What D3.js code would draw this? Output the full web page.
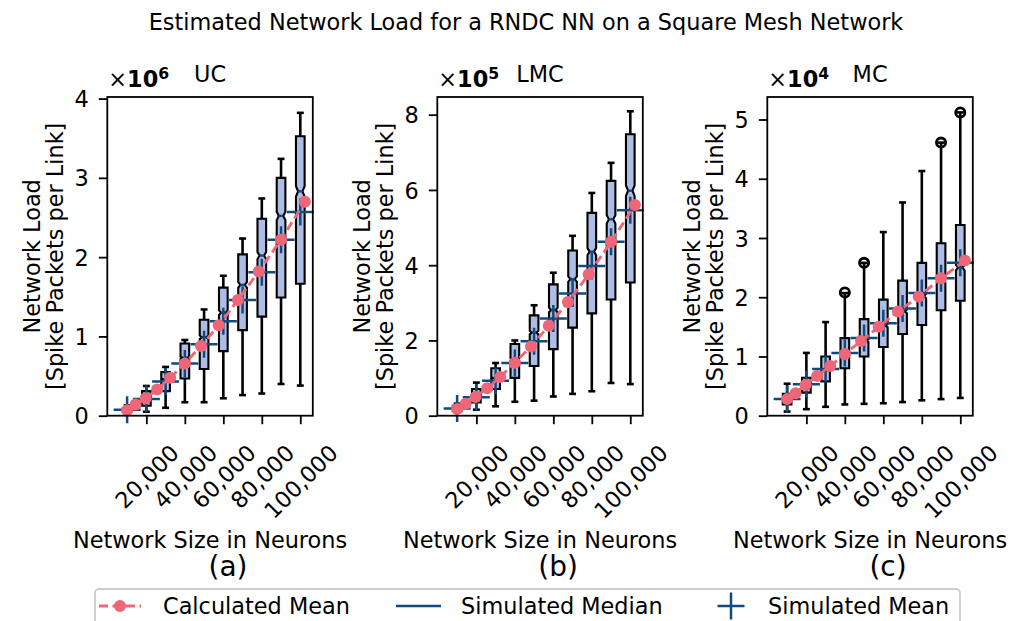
<!DOCTYPE html>
<html><head><meta charset="utf-8">
<script src="https://cdn.jsdelivr.net/npm/d3@7"></script>
<style>
body{margin:0;background:#fff}
svg{display:block}
text{font-family:"DejaVu Sans",sans-serif;fill:#000}
</style>
</head><body>
<svg id="chart" width="1020" height="621"></svg>
<script>
// ---------- data ----------
const calcSizes = [10000,14400,19600,25600,32400,40000,48400,57600,67600,78400,90000,102400];
const simSizes  = [10000,20000,30000,40000,50000,60000,70000,80000,90000,100000];
const xTickValues = [20000,40000,60000,80000,100000];

// UC (x1e6)
const ucCalcMean = [0.07,0.14,0.22,0.33,0.48,0.66,0.88,1.14,1.46,1.82,2.22,2.70];
const ucSimMean  = [0.075,0.21,0.43,0.66,0.90,1.19,1.46,1.81,2.22,2.57];
const ucMedian   = [0.075,0.22,0.46,0.73,0.99,1.30,1.65,2.02,2.52,2.83];
const ucQ1       = [0.055,0.125,0.31,0.47,0.59,0.815,1.08,1.25,1.49,1.665];
const ucQ3       = [0.095,0.31,0.55,0.91,1.21,1.615,2.035,2.485,3.0,3.525];
const ucWhisLo   = [0.03,0.05,0.10,0.17,0.17,0.22,0.26,0.28,0.40,0.38];
const ucWhisHi   = [0.13,0.375,0.615,0.955,1.34,1.765,2.235,2.74,3.24,3.82];
const ucFliers   = [[],[],[],[],[],[],[],[],[],[]];
const ucTicks    = [0,1,2,3,4];

// LMC (x1e5)
const lmcCalcMean = [0.18,0.32,0.50,0.73,1.03,1.41,1.84,2.39,3.02,3.76,4.62,5.60];
const lmcSimMean  = [0.19,0.49,0.93,1.40,1.98,2.58,3.25,3.98,4.62,5.46];
const lmcMedian   = [0.19,0.52,1.00,1.50,2.21,2.81,3.63,4.36,5.22,5.98];
const lmcQ1       = [0.12,0.35,0.71,1.005,1.32,1.77,2.34,2.72,3.09,3.54];
const lmcQ3       = [0.26,0.71,1.26,1.905,2.665,3.49,4.39,5.39,6.24,7.48];
const lmcWhisLo   = [0.08,0.16,0.25,0.37,0.40,0.51,0.58,0.65,0.87,0.84];
const lmcWhisHi   = [0.32,0.88,1.40,2.00,2.935,3.80,4.78,5.92,6.72,8.09];
const lmcFliers   = [[],[],[],[],[],[],[],[],[],[]];
const lmcTicks    = [0,2,4,6,8];

// MC (x1e4)
const mcCalcMean = [0.28,0.38,0.52,0.67,0.84,1.04,1.26,1.50,1.76,2.01,2.32,2.62];
const mcSimMean  = [0.28,0.53,0.79,1.06,1.31,1.56,1.81,2.07,2.32,2.58];
const mcMedian   = [0.27,0.51,0.77,1.03,1.27,1.52,1.76,2.02,2.28,2.50];
const mcQ1       = [0.19,0.39,0.58,0.80,1.00,1.16,1.38,1.53,1.78,1.94];
const mcQ3       = [0.37,0.64,1.00,1.31,1.63,1.96,2.28,2.58,2.91,3.22];
const mcWhisLo   = [0.07,0.11,0.15,0.19,0.20,0.21,0.23,0.26,0.28,0.30];
const mcWhisHi   = [0.54,1.06,1.58,2.07,2.58,3.10,3.60,4.13,4.61,5.12];
const mcFliers   = [[],[],[],[2.08],[2.58],[],[],[],[4.61],[5.12]];
const mcTicks    = [0,1,2,3,4,5];

const panelTitles   = ["UC","LMC","MC"];
const panelExps     = ["6","5","4"];
const panelCaptions = ["(a)","(b)","(c)"];
const panelYMax     = [4.02,8.47,5.38];

const legendLabels = ["Calculated Mean","Simulated Median","Simulated Mean"];
const suptitle = "Estimated Network Load for a RNDC NN on a Square Mesh Network";
const xLabel = "Network Size in Neurons";
const yLabelLines = ["Network Load","[Spike Packets per Link]"];

// ---------- style ----------
const RED = "#ee6677", DARK = "#134a7c", FILL = "#aebde6";
const FS = 22.4;
const lefts = [107.3, 437.3, 767.3];
const W = 205.5, TOP = 97, BOTTOM = 415.7;
const boxWidth = 4500, capWidth = 3600, notchN = 2000;

const svg = d3.select("#chart");

svg.append("text").attr("x",526).attr("y",30).attr("text-anchor","middle")
  .style("font-size",FS+"px").text(suptitle);

const panels = [
  {calc:ucCalcMean, mean:ucSimMean, med:ucMedian, q1:ucQ1, q3:ucQ3, lo:ucWhisLo, hi:ucWhisHi, fl:ucFliers, ticks:ucTicks},
  {calc:lmcCalcMean, mean:lmcSimMean, med:lmcMedian, q1:lmcQ1, q3:lmcQ3, lo:lmcWhisLo, hi:lmcWhisHi, fl:lmcFliers, ticks:lmcTicks},
  {calc:mcCalcMean, mean:mcSimMean, med:mcMedian, q1:mcQ1, q3:mcQ3, lo:mcWhisLo, hi:mcWhisHi, fl:mcFliers, ticks:mcTicks}
];

function plusPath(cx, cy, s){
  const h = s/2;
  return `M${cx-h},${cy}L${cx+h},${cy}M${cx},${cy-h}L${cx},${cy+h}`;
}

panels.forEach((p, i) => {
  const L = lefts[i];
  const x = d3.scaleLinear().domain([-300,106500]).range([L, L+W]);
  const y = d3.scaleLinear().domain([0, panelYMax[i]]).range([BOTTOM, TOP]);
  const g = svg.append("g");

  // boxes
  const bg = g.append("g");
  simSizes.forEach((s, k) => {
    const xl = x(s - boxWidth/2), xr = x(s + boxWidth/2);
    const nl = x(s - boxWidth/4), nr = x(s + boxWidth/4);
    const cl = x(s - capWidth/2), cr = x(s + capWidth/2);
    const q1 = p.q1[k], q3 = p.q3[k], md = p.med[k];
    const nh = 1.57*(q3-q1)/Math.sqrt(notchN);
    bg.append("line").attr("x1",x(s)).attr("x2",x(s)).attr("y1",y(q1)).attr("y2",y(p.lo[k]))
      .attr("stroke","#000").attr("stroke-width",2.6);
    bg.append("line").attr("x1",x(s)).attr("x2",x(s)).attr("y1",y(q3)).attr("y2",y(p.hi[k]))
      .attr("stroke","#000").attr("stroke-width",2.6);
    [p.lo[k], p.hi[k]].forEach(v => {
      bg.append("line").attr("x1",cl).attr("x2",cr).attr("y1",y(v)).attr("y2",y(v))
        .attr("stroke","#000").attr("stroke-width",2.6);
    });
    const path = d3.path();
    path.moveTo(xl, y(q1)); path.lineTo(xr, y(q1)); path.lineTo(xr, y(md-nh));
    path.lineTo(nr, y(md)); path.lineTo(xr, y(md+nh)); path.lineTo(xr, y(q3));
    path.lineTo(xl, y(q3)); path.lineTo(xl, y(md+nh)); path.lineTo(nl, y(md));
    path.lineTo(xl, y(md-nh)); path.closePath();
    bg.append("path").attr("d", path.toString()).attr("fill",FILL)
      .attr("stroke","#000").attr("stroke-width",2.1).attr("stroke-linejoin","miter");
    bg.append("line").attr("x1",nl).attr("x2",nr).attr("y1",y(md)).attr("y2",y(md))
      .attr("stroke",DARK).attr("stroke-width",2.4);
    p.fl[k].forEach(v => {
      bg.append("circle").attr("cx",x(s)).attr("cy",y(v)).attr("r",4.6)
        .attr("fill","none").attr("stroke","#000").attr("stroke-width",2.8);
    });
  });

  // simulated mean "+"
  g.append("g").selectAll("path").data(simSizes).join("path")
    .attr("d",(s,k)=>plusPath(x(s), y(p.mean[k]), 27))
    .attr("stroke",DARK).attr("stroke-width",2.5).attr("fill","none");

  // calculated mean line
  const line = d3.line().x((d,k)=>x(calcSizes[k])).y(d=>y(d));
  g.append("path").attr("d", line(p.calc)).attr("fill","none").attr("stroke",RED)
    .attr("stroke-width",2.9).attr("stroke-dasharray","9,4.5");
  g.append("g").selectAll("circle").data(p.calc).join("circle")
    .attr("cx",(d,k)=>x(calcSizes[k])).attr("cy",d=>y(d)).attr("r",6).attr("fill",RED);

  // frame
  g.append("rect").attr("x",L).attr("y",TOP).attr("width",W).attr("height",BOTTOM-TOP)
    .attr("fill","none").attr("stroke","#000").attr("stroke-width",1.8);

  // y axis
  const ya = g.append("g").attr("transform",`translate(${L},0)`)
    .call(d3.axisLeft(y).tickValues(p.ticks).tickFormat(d3.format("d")).tickSize(8.5).tickPadding(10));
  ya.select(".domain").remove();
  ya.selectAll("line").attr("stroke","#000").attr("stroke-width",1.8);
  ya.selectAll("text").style("font-size",FS+"px").style("font-family","DejaVu Sans").attr("dy","0.36em");

  // x axis
  const xa = g.append("g").attr("transform",`translate(0,${BOTTOM})`)
    .call(d3.axisBottom(x).tickValues(xTickValues).tickFormat(d3.format(",")).tickSize(8.5));
  xa.select(".domain").remove();
  xa.selectAll("line").attr("stroke","#000").attr("stroke-width",1.8);
  xa.selectAll("text").style("font-size",FS+"px").style("font-family","DejaVu Sans")
    .attr("text-anchor","middle").attr("y",null).attr("dy","0.36em")
    .attr("transform", function(){
      const len = this.getComputedTextLength();
      const cy = (443 - BOTTOM) + (len + 0.73*FS)/(2*Math.SQRT2);
      return `translate(0,${cy}) rotate(-45)`;
    });

  // titles
  const cx = L + W/2;
  g.append("text").attr("x",cx).attr("y",81.7).attr("text-anchor","middle")
    .style("font-size",FS+"px").text(panelTitles[i]);
  const ot = g.append("text").attr("x",L+1).attr("y",87.3).style("font-size",FS+"px");
  ot.append("tspan").text("\u00d7");
  ot.append("tspan").style("font-weight","bold").text("10");
  ot.append("tspan").style("font-weight","bold").style("font-size",(FS*0.7)+"px").attr("dy","-0.55em").text(panelExps[i]);

  // y label
  const ymid = (TOP+BOTTOM)/2;
  yLabelLines.forEach((t, j) => {
    g.append("text").attr("transform",`translate(${L-67+j*23},${ymid}) rotate(-90)`)
      .attr("text-anchor","middle").style("font-size",FS+"px").text(t);
  });

  // x label and caption
  g.append("text").attr("x",cx).attr("y",548).attr("text-anchor","middle")
    .style("font-size",FS+"px").text(xLabel);
  g.append("text").attr("x",cx+18).attr("y",576).attr("text-anchor","middle")
    .style("font-size","28px").text(panelCaptions[i]);
});

// legend
const lg = svg.append("g");
lg.append("rect").attr("x",95).attr("y",589).attr("width",865).attr("height",40).attr("rx",4)
  .attr("fill","#fff").attr("stroke","#cccccc").attr("stroke-width",1.8);
const ly = 606;
lg.append("line").attr("x1",99).attr("x2",141).attr("y1",ly).attr("y2",ly)
  .attr("stroke",RED).attr("stroke-width",2.9).attr("stroke-dasharray","9,4.5");
lg.append("circle").attr("cx",120).attr("cy",ly).attr("r",6).attr("fill",RED);
lg.append("line").attr("x1",396).attr("x2",441).attr("y1",ly).attr("y2",ly)
  .attr("stroke",DARK).attr("stroke-width",2.4);
lg.append("path").attr("d",plusPath(731,ly,27)).attr("stroke",DARK).attr("stroke-width",2.5);
const lx = [163, 461, 768];
legendLabels.forEach((t,j)=>{
  lg.append("text").attr("x",lx[j]).attr("y",ly+8).style("font-size",FS+"px").text(t);
});
</script>
</body></html>
